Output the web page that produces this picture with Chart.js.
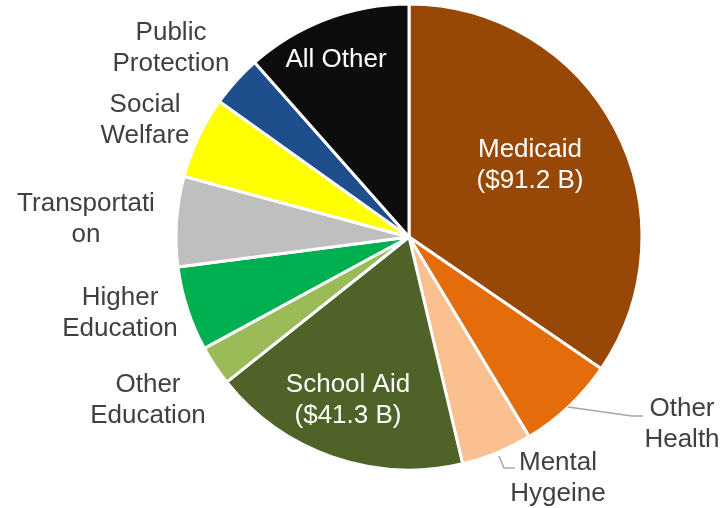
<!DOCTYPE html>
<html>
<head>
<meta charset="utf-8">
<style>
  html, body { margin: 0; padding: 0; background: #fff; }
  #chart { display: block; }
</style>
<script src="https://cdn.jsdelivr.net/npm/chart.js@4.4.1/dist/chart.umd.min.js"></script>
</head>
<body>
<canvas id="chart" width="727" height="508"></canvas>
<script>
// Spending categories (billions)
const categories = ['Medicaid', 'Other Health', 'Mental Hygeine', 'School Aid', 'Other Education',
    'Higher Education', 'Transportation', 'Social Welfare', 'Public Protection', 'All Other'];
const values = [91.2, 18.0, 13.0, 47.5, 7.3, 15.5, 16.5, 15.0, 9.5, 30.4];
const colors = ['#974706', '#E46C0A', '#FAC090', '#4F6228', '#9BBB59',
    '#00B050', '#BFBFBF', '#FFFF00', '#1F4E8C', '#0D0D0D'];

// Label text lines, white ones sit inside their slice
const labelLines = [
    ['Medicaid', '($91.2 B)'],
    ['Other', 'Health'],
    ['Mental', 'Hygeine'],
    ['School Aid', '($41.3 B)'],
    ['Other', 'Education'],
    ['Higher', 'Education'],
    ['Transportati', 'on'],
    ['Social', 'Welfare'],
    ['Public', 'Protection'],
    ['All Other']
];
const insideLabels = [0, 3, 9];

// label anchors as offsets from the pie centre (first baseline)
const labelPos = [
    [121, -80], [273, 179], [149, 233], [-61, 155], [-261, 155],
    [-289, 68], [-323, -26], [-264, -125], [-238, -197], [-73, -170]
];
// leader lines (offsets from centre)
const leaders = {
    1: [[159, 170], [223, 179], [234, 179]],
    2: [[90, 219], [95, 231], [106, 231]]
};

const labelPlugin = {
    id: 'pieLabels',
    afterDatasetsDraw(chart) {
        const ctx = chart.ctx;
        const arcs = chart.getDatasetMeta(0).data;
        const cx = arcs[0].x, cy = arcs[0].y;
        ctx.save();
        ctx.font = '26px "Liberation Sans", Arial, sans-serif';
        ctx.textAlign = 'center';
        ctx.textBaseline = 'alphabetic';
        labelLines.forEach((lines, i) => {
            ctx.fillStyle = insideLabels.includes(i) ? '#FFFFFF' : '#404040';
            const [ox, oy] = labelPos[i];
            lines.forEach((t, j) => ctx.fillText(t, cx + ox, cy + oy + j * 31));
        });
        ctx.strokeStyle = '#A6A6A6';
        ctx.lineWidth = 1.5;
        Object.values(leaders).forEach(pts => {
            ctx.beginPath();
            pts.forEach(([x, y], k) => k ? ctx.lineTo(cx + x, cy + y) : ctx.moveTo(cx + x, cy + y));
            ctx.stroke();
        });
        ctx.restore();
    }
};

new Chart(document.getElementById('chart'), {
    type: 'pie',
    data: {
        labels: categories,
        datasets: [{
            data: values,
            backgroundColor: colors,
            borderColor: '#FFFFFF',
            borderWidth: 3,
            radius: 233
        }]
    },
    options: {
        responsive: false,
        animation: false,
        layout: { padding: { left: 91, right: 0, top: 0, bottom: 34 } },
        plugins: {
            legend: { display: false },
            tooltip: { enabled: false }
        }
    },
    plugins: [labelPlugin]
});
</script>
</body>
</html>
